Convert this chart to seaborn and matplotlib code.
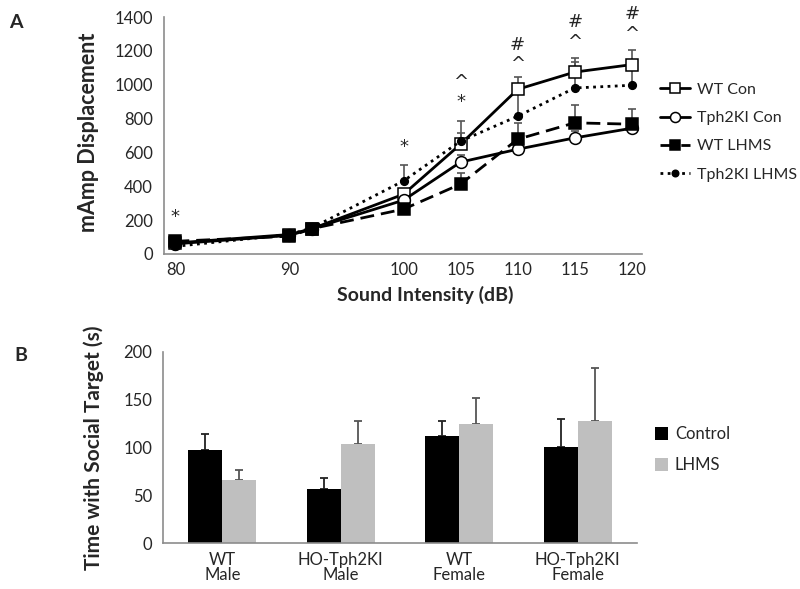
import matplotlib
matplotlib.use("Agg")
import matplotlib.pyplot as plt
import seaborn as sns
import pandas as pd
import numpy as np
from matplotlib.lines import Line2D
from matplotlib.patches import Patch

# ---------------- data: panel A ----------------
intensity = [80, 90, 92, 100, 105, 110, 115, 120]
xticks_a = [80, 90, 100, 105, 110, 115, 120]
wt_con = [65, 115, 150, 353, 649, 973, 1075, 1119]
tph_con = [60, 110, 150, 318, 543, 619, 686, 743]
wt_lhms = [75, 105, 150, 265, 413, 678, 775, 767]
tph_lhms = [45, 115, 155, 432, 667, 814, 981, 997]
wt_con_err = [10, 10, 0, 20, 137, 72, 83, 89]
tph_con_err = [10, 10, 0, 15, 40, 60, 40, 30]
wt_lhms_err = [15, 10, 0, 20, 65, 95, 108, 90]
tph_lhms_err = [15, 10, 0, 93, 47, 140, 154, 100]
series_names = ["WT Con", "Tph2KI Con", "WT LHMS", "Tph2KI LHMS"]

# significance marks: (x, y, symbol)
sig_x = [80, 100, 105, 105, 110, 110, 115, 115, 120, 120]
sig_y = [218, 631, 1018, 900, 1233, 1121, 1369, 1251, 1416, 1298]
sig_s = ["*", "*", "^", "*", "#", "^", "#", "^", "#", "^"]

# ---------------- data: panel B ----------------
groups = ["WT\nMale", "HO-Tph2KI\nMale", "WT\nFemale", "HO-Tph2KI\nFemale"]
control_vals = [97, 57, 112, 100]
lhms_vals = [66, 104, 124, 128]
control_err = [17, 11, 16, 30]
lhms_err = [10, 24, 28, 55]
treatments = ["Control", "LHMS"]

sns.set_style("white")
plt.rcParams["font.family"] = ["Lato", "DejaVu Sans"]

fig = plt.figure(figsize=(8, 5.89), dpi=100)
axA = fig.add_axes([0.205, 0.5688, 0.5975, 0.4022])
axB = fig.add_axes([0.204, 0.0776, 0.592, 0.3254])

spine_c = "#8c8c8c"

# ---------------- panel A ----------------
dfA = pd.DataFrame({"x": intensity})
styles = [
    dict(vals=wt_con, err=wt_con_err, marker="s", mfc="white", ms=8, ls="-"),
    dict(vals=tph_con, err=tph_con_err, marker="o", mfc="white", ms=8.5, ls="-"),
    dict(vals=wt_lhms, err=wt_lhms_err, marker="s", mfc="black", ms=8, ls=(0, (5, 2.5))),
    dict(vals=tph_lhms, err=tph_lhms_err, marker="o", mfc="black", ms=5.5, ls=(0, (1, 1.6))),
]
handles = []
for name, st in zip(series_names, styles):
    axA.errorbar(intensity, st["vals"], yerr=[np.zeros(len(st["err"])), st["err"]],
                 fmt="none", ecolor="#555555", elinewidth=1.2, capsize=3, capthick=1.2, zorder=1)
for name, st in zip(series_names, styles):
    dfA[name] = st["vals"]
    sns.lineplot(data=dfA, x="x", y=name, ax=axA, color="black", linewidth=2,
                 linestyle=st["ls"], marker=st["marker"], markersize=st["ms"],
                 markerfacecolor=st["mfc"], markeredgecolor="black", markeredgewidth=1.1,
                 errorbar=None, zorder=3)
    handles.append(Line2D([0], [0], color="black", linewidth=2, linestyle=st["ls"],
                          marker=st["marker"], markersize=st["ms"] * 0.85, markerfacecolor=st["mfc"],
                          markeredgecolor="black", markeredgewidth=1.1))

for x, y, s in zip(sig_x, sig_y, sig_s):
    axA.text(x, y, s, ha="center", va="center", fontsize=13, clip_on=False,
             family=["DejaVu Sans"])

axA.set_xlim(79.0, 120.9)
axA.set_ylim(0, 1400)
axA.set_xticks(xticks_a)
axA.set_yticks(range(0, 1401, 200))
axA.tick_params(axis="x", direction="in", length=7, width=1, color=spine_c, labelsize=12, pad=6)
axA.tick_params(axis="y", direction="out", length=5, width=1, color=spine_c, labelsize=12, pad=3)
for side in ["top", "right"]:
    axA.spines[side].set_visible(False)
for side in ["left", "bottom"]:
    axA.spines[side].set_color(spine_c)
    axA.spines[side].set_linewidth(1.2)
axA.set_xlabel("Sound Intensity (dB)", fontsize=14, fontweight="bold")
axA.set_ylabel("mAmp Displacement", fontsize=15.5, fontweight="bold")
axA.xaxis.set_label_coords(0.546, -0.135)
axA.yaxis.set_label_coords(-0.135, 0.513)
fig.legend(handles=handles, labels=series_names, loc="upper left",
           bbox_to_anchor=(0.807, 0.884), frameon=False, fontsize=11.5,
           handlelength=1.85, labelspacing=0.88, handletextpad=0.45)

# ---------------- panel B ----------------
dfB = pd.DataFrame({
    "group": groups * 2,
    "treatment": ["Control"] * 4 + ["LHMS"] * 4,
    "value": control_vals + lhms_vals,
})
sns.barplot(data=dfB, x="group", y="value", hue="treatment", hue_order=treatments,
            palette={"Control": "black", "LHMS": "#bfbfbf"}, width=0.576,
            errorbar=None, ax=axB, saturation=1, linewidth=0, legend=False)
err_sets = [(control_vals, control_err, "#222222"), (lhms_vals, lhms_err, "#555555")]
for cont, (vals, errs, ec) in zip(axB.containers, err_sets):
    xs = [b.get_x() + b.get_width() / 2 for b in cont]
    axB.errorbar(xs, vals, yerr=[np.zeros(len(errs)), errs], fmt="none", ecolor=ec,
                 elinewidth=1.3, capsize=3, capthick=1.3, zorder=0.5)

axB.set_xlim(-0.5, 3.5)
axB.set_ylim(0, 200)
axB.set_yticks(range(0, 201, 50))
axB.set_xticks([-0.5, 0.5, 1.5, 2.5, 3.5])
axB.set_xticklabels([])
axB.set_xticks(range(4), minor=True)
axB.set_xticklabels(groups, minor=True, fontsize=12, linespacing=0.95)
axB.tick_params(axis="x", which="major", direction="out", length=6, width=1, color=spine_c)
axB.tick_params(axis="x", which="minor", length=0, pad=6)
axB.tick_params(axis="y", direction="out", length=5, width=1, color=spine_c, labelsize=12, pad=3)
for side in ["top", "right"]:
    axB.spines[side].set_visible(False)
for side in ["left", "bottom"]:
    axB.spines[side].set_color(spine_c)
    axB.spines[side].set_linewidth(1.2)
axB.set_xlabel("")
axB.set_ylabel("Time with Social Target (s)", fontsize=15, fontweight="bold")
axB.yaxis.set_label_coords(-0.125, 0.5)
legB = [Patch(facecolor="black", edgecolor="none"), Patch(facecolor="#bfbfbf", edgecolor="none")]
fig.legend(handles=legB, labels=treatments, loc="upper left", bbox_to_anchor=(0.80, 0.302),
           frameon=False, fontsize=12, handlelength=0.8, handleheight=0.8,
           handletextpad=0.4, labelspacing=0.9)

fig.text(0.012, 0.962, "A", fontsize=14, fontweight="bold", ha="left", va="center")
fig.text(0.018, 0.397, "B", fontsize=14, fontweight="bold", ha="left", va="center")

fig.savefig("out.png", dpi=100)
